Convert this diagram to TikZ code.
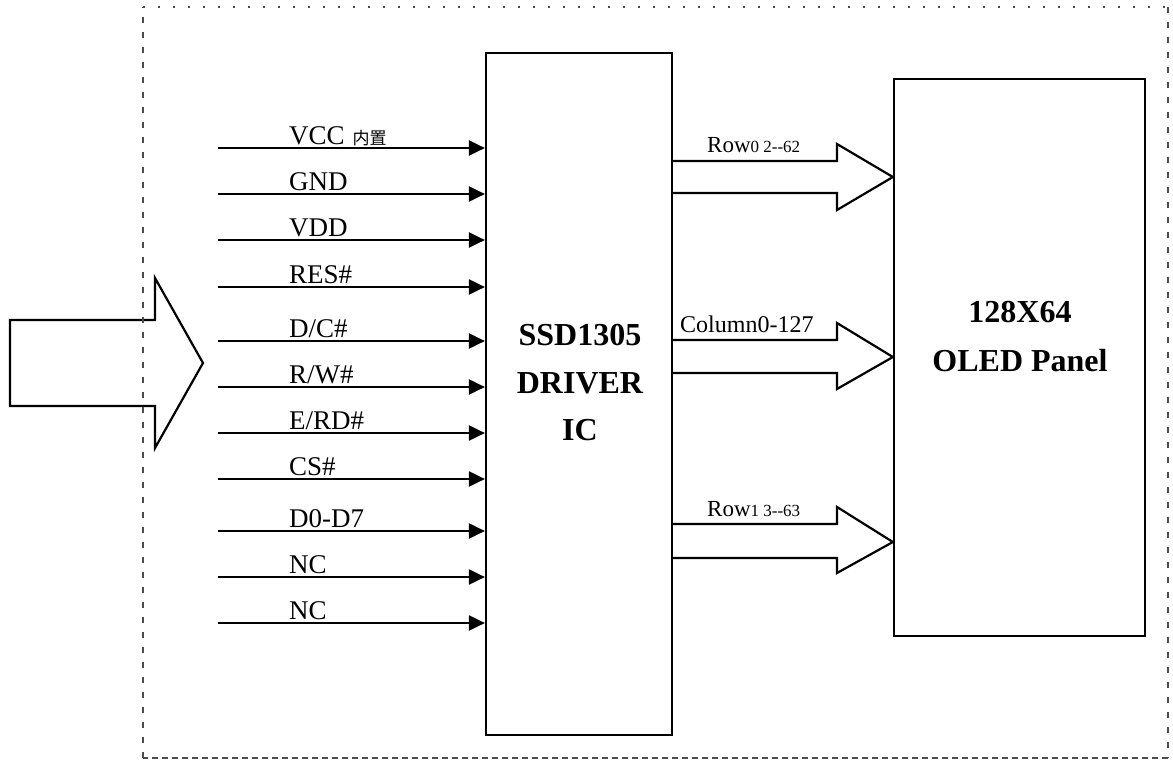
\documentclass[tikz,border=0pt]{standalone}
\usepackage{fontspec}
\setmainfont{Liberation Serif}
\newfontfamily\cjk{Noto Sans CJK SC}
\usetikzlibrary{arrows.meta}
\begin{document}
\begin{tikzpicture}[x=1pt,y=-1pt]
\tikzset{
  box/.style={draw, line width=2.2pt, inner sep=0pt},
  sig/.style={line width=2.2pt, -{Triangle[length=16pt,width=15pt]}},
  lab/.style={anchor=base west, inner sep=0pt, font=\fontsize{27}{32}\selectfont},
  bigtxt/.style={anchor=base, inner sep=0pt, font=\bfseries\fontsize{32}{36}\selectfont},
  fat/.style={line width=2.2pt, line join=miter, fill=white},
  border/.style={line width=1.5pt, draw=black!70},
}
\useasboundingbox (0,0) rectangle (1173,761);

% big input arrow
\draw[fat] (155,278) -- (203,363) -- (155,448) -- (155,406) -- (10,406) -- (10,320) -- (155,320) -- cycle;

% driver and panel
\node[box, minimum width=186pt, minimum height=682pt] (drv) at (579,394) {};
\node[box, minimum width=251pt, minimum height=557pt] (panel) at (1019.5,357.5) {};

\node[bigtxt] (d1) at (580,345) {SSD1305};
\node[bigtxt] (d2) at (580,393) {DRIVER};
\node[bigtxt] (d3) at (580,440) {IC};

\node[bigtxt] (p1) at (1020,322) {128X64};
\node[bigtxt] (p2) at (1020,371) {OLED Panel};

% input signals
\foreach \y/\t [count=\i] in {148/{VCC\hspace{8pt}{\cjk\fontsize{17}{20}\selectfont 内置}},
  194/GND, 240/VDD, 287/{RES\#}, 341/{D/C\#}, 387/{R/W\#}, 433/{E/RD\#},
  479/{CS\#}, 531/{D0-D7}, 577/NC, 623/NC} {
  \coordinate (s\i) at (218,\y);
  \draw[sig] (s\i) -- (drv.west |- s\i);
  \node[lab] (l\i) at (289,\y-4) {\t};
}

% output bus arrows
\foreach \n/\ta/\tb/\ha/\hb/\tc in {1/161/193/144/210/177, 2/340/373/323/389/357, 3/524/558/507/573/542} {
  \coordinate (t\n) at (893,\tc);
  \coordinate (b\n) at (672,\ta);
  \coordinate (c\n) at (672,\tb);
  \draw[fat] (drv.east |- b\n) -- (837,\ta) -- (837,\ha) -- (panel.west |- t\n) -- (837,\hb) -- (837,\tb) -- (drv.east |- c\n);
}

\node[anchor=base west, inner sep=0pt] (r0) at (707,152) {\fontsize{23}{26}\selectfont Row\fontsize{17}{20}\selectfont 0 2-{}-62};
\node[anchor=base west, inner sep=0pt] (col) at (680,332) {\fontsize{24}{28}\selectfont Column0-127};
\node[anchor=base west, inner sep=0pt] (r1) at (707,516) {\fontsize{23}{26}\selectfont Row\fontsize{17}{20}\selectfont 1 3-{}-63};

% dashed frame
\draw[border, dash pattern=on 2pt off 13pt] (143,7) -- (1168,7);
\draw[border, dash pattern=on 6pt off 9pt] (1168,7) -- (1168,758);
\draw[border, dash pattern=on 6pt off 4pt] (1168,758) -- (143,758);
\draw[border, dash pattern=on 6pt off 9pt] (143,758) -- (143,7);
\end{tikzpicture}
\end{document}
